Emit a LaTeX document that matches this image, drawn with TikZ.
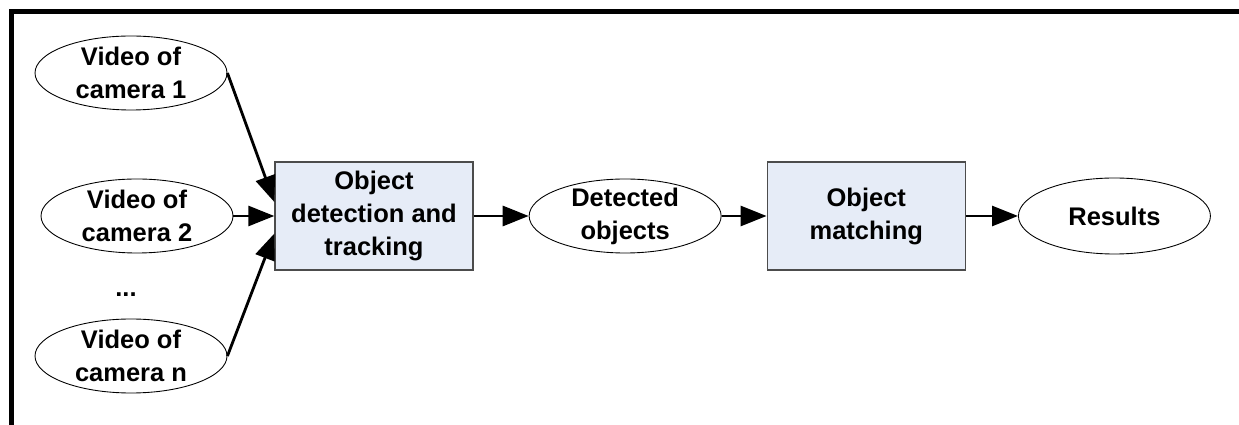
\documentclass[tikz,border=0pt]{standalone}
\usepackage{fontspec}
\setmainfont{Liberation Sans}
\usetikzlibrary{arrows.meta,positioning,shapes.geometric}
\definecolor{stagefill}{RGB}{230,236,247}
\tikzset{
  labelfont/.style={font=\fontsize{14.5}{18.8}\selectfont\bfseries},
  source/.style={ellipse,draw,line width=0.5pt,minimum width=3.84cm,minimum height=1.48cm,inner xsep=0pt,inner ysep=-2mm,align=center,labelfont},
  stage/.style={rectangle,draw=black!70,fill=stagefill,line width=0.8pt,minimum width=3.96cm,minimum height=2.16cm,inner sep=2pt,align=center,labelfont},
  flow/.style={-{Triangle[length=5.2mm,width=4mm]},line width=1.6pt}
}
\begin{document}
\begin{tikzpicture}
  \useasboundingbox (0,0) rectangle (24.78,-8.5);
  % frame (top and left edge only)
  \draw[line width=2.3pt] (0.23,-8.6) -- (0.23,-0.23) -- (24.9,-0.23);

  \node[stage] (track) at (7.48,-4.32) {Object\\detection and\\tracking};
  \node[source, right=1.1cm of track] (det) {Detected\\objects};
  \node[stage, right=0.9cm of det] (match) {Object\\matching};
  \node[source, right=1.04cm of match, minimum height=1.52cm] (res) {Results};

  \node[source] (cam1) at (2.62,-1.46) {Video of\\camera 1};
  \node[source] (cam2) at (2.74,-4.32) {Video of\\camera 2};
  \node[labelfont] (dots) at (2.52,-5.9) {...};
  \node[source] (camn) at (2.62,-7.12) {Video of\\camera n};

  \draw[flow] (cam1.east) -- (track.172);
  \draw[flow] (cam2.east) -- (track.west);
  \draw[flow] (camn.east) -- (track.190);
  \draw[flow] (track) -- (det);
  \draw[flow] (det) -- (match);
  \draw[flow] (match) -- (res);
\end{tikzpicture}
\end{document}
